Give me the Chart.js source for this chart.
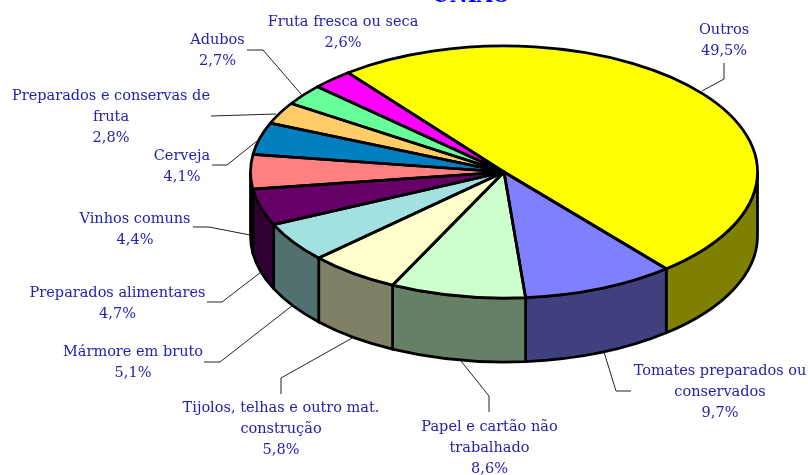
<!DOCTYPE html>
<html lang="pt">
<head>
    <meta charset="UTF-8">
    <title>Exportações</title>
    <script src="https://cdn.jsdelivr.net/npm/chart.js"></script>
    <style>
        html, body { margin: 0; padding: 0; background: #fff; }
        canvas { display: block; }
    </style>
</head>
<body>
    <canvas id="pie3d" width="808" height="475"></canvas>
    <script>
        // Data, clockwise from the top-left edge of "Outros"
        const categories = ["Outros", "Tomates preparados ou conservados", "Papel e cartão não trabalhado",
            "Tijolos, telhas e outro mat. construção", "Mármore em bruto", "Preparados alimentares",
            "Vinhos comuns", "Cerveja", "Preparados e conservas de fruta", "Adubos", "Fruta fresca ou seca"];
        const shares = [49.5, 9.7, 8.6, 5.8, 5.1, 4.7, 4.4, 4.1, 2.8, 2.7, 2.6];
        const sliceColors = ["#ffff00", "#8080ff", "#ccffcc", "#ffffcc", "#a3e0e0", "#660066",
            "#ff8080", "#0080c0", "#ffcc66", "#66ff99", "#ff00ff"];
        const wallColors = ["#808000", "#40407f", "#668066", "#808066", "#527070", "#330033",
            "#804040", "#004060", "#806633", "#33804c", "#800080"];
        const titleText = "UNIÃO";

        // Pie geometry on the page
        const squash = 126 / 253.5;
        const depth = 64;

        // Label lines and leader lines, same order as categories
        const labelLines = [
            ["Outros"], ["Tomates preparados ou", "conservados"], ["Papel e cartão não", "trabalhado"],
            ["Tijolos, telhas e outro mat.", "construção"], ["Mármore em bruto"], ["Preparados alimentares"],
            ["Vinhos comuns"], ["Cerveja"], ["Preparados e conservas de", "fruta"], ["Adubos"], ["Fruta fresca ou seca"]
        ];
        const labelCenters = [[724, 30], [720, 371], [489.5, 427], [281, 408], [133, 352], [117.5, 293],
            [135, 219], [182, 156], [111, 96], [217.5, 40], [343, 22]];
        const leaders = [
            [[724, 63], [724, 79], [702, 91]],
            [[604, 352], [616, 391], [631, 391]],
            [[461, 361], [489, 396], [489, 412]],
            [[354, 337], [281, 378], [281, 394]],
            [[293, 305], [220, 362], [204, 362]],
            [[261, 272], [222, 302], [207, 302]],
            [[250, 235], [209, 227], [193, 227]],
            [[257, 141], [227, 165], [212, 165]],
            [[276, 114], [211, 116]],
            [[301, 94], [263, 50], [247, 50]]
        ];

        const pie3dPlugin = {
            id: "pie3d",
            // walls first, then flatten the top face while the library draws the arcs
            beforeDatasetsDraw(chart) {
                const ctx = chart.ctx;
                const arcs = chart.getDatasetMeta(0).data;
                const { x, y, outerRadius } = arcs[0];
                const ry = outerRadius * squash;

                ctx.save();
                ctx.lineWidth = 2.75;
                ctx.strokeStyle = "#000";
                ctx.lineJoin = "round";
                arcs.forEach((arc, i) => {
                    // only the front half of the rim shows, split into turns so wrapped slices still work
                    for (let turn = -1; turn <= 1; turn++) {
                        const from = Math.max(arc.startAngle, turn * 2 * Math.PI);
                        const to = Math.min(arc.endAngle, turn * 2 * Math.PI + Math.PI);
                        if (to <= from) continue;
                        ctx.beginPath();
                        ctx.ellipse(x, y, outerRadius, ry, 0, from, to);
                        ctx.ellipse(x, y + depth, outerRadius, ry, 0, to, from, true);
                        ctx.closePath();
                        ctx.fillStyle = wallColors[i];
                        ctx.fill();
                        ctx.stroke();
                    }
                });
                ctx.restore();

                ctx.save();
                ctx.translate(x, y);
                ctx.scale(1, squash);
                ctx.translate(-x, -y);
            },
            afterDatasetsDraw(chart) {
                const ctx = chart.ctx;
                ctx.restore();

                // outline of the top face with an even pen width
                const arcs = chart.getDatasetMeta(0).data;
                const { x, y, outerRadius } = arcs[0];
                const ry = outerRadius * squash;
                ctx.save();
                ctx.lineWidth = 2.75;
                ctx.strokeStyle = "#000";
                ctx.lineJoin = "round";
                arcs.forEach(arc => {
                    ctx.beginPath();
                    ctx.moveTo(x, y);
                    ctx.ellipse(x, y, outerRadius, ry, 0, arc.startAngle, arc.endAngle);
                    ctx.closePath();
                    ctx.stroke();
                });
                ctx.restore();
            },
            afterDraw(chart) {
                const ctx = chart.ctx;
                ctx.save();

                ctx.strokeStyle = "#222";
                ctx.lineWidth = 1;
                leaders.forEach(points => {
                    ctx.beginPath();
                    points.forEach((p, i) => i ? ctx.lineTo(p[0], p[1]) : ctx.moveTo(p[0], p[1]));
                    ctx.stroke();
                });

                ctx.textAlign = "center";
                ctx.textBaseline = "middle";
                ctx.fillStyle = "#2222b0";
                ctx.font = "14.5px 'DejaVu Serif'";
                labelLines.forEach((lines, i) => {
                    const [cx, top] = labelCenters[i];
                    const percent = shares[i].toFixed(1).replace(".", ",") + "%";
                    [...lines, percent].forEach((text, k) => ctx.fillText(text, cx, top + k * 21));
                });

                // title is cut by the top edge in the original too
                ctx.textBaseline = "alphabetic";
                ctx.fillStyle = "#0000ff";
                ctx.font = "bold 20px 'DejaVu Serif'";
                ctx.fillText(titleText, 471, 2);
                ctx.restore();
            }
        };

        new Chart(document.getElementById("pie3d"), {
            type: "pie",
            data: {
                labels: categories,
                datasets: [{ data: shares, backgroundColor: sliceColors, borderWidth: 0 }]
            },
            options: {
                responsive: false,
                animation: false,
                rotation: -38,
                radius: 253.5,
                layout: { padding: { left: 200, right: 0, top: 0, bottom: 131 } },
                plugins: { legend: { display: false }, tooltip: { enabled: false } }
            },
            plugins: [pie3dPlugin]
        });
    </script>
</body>
</html>
